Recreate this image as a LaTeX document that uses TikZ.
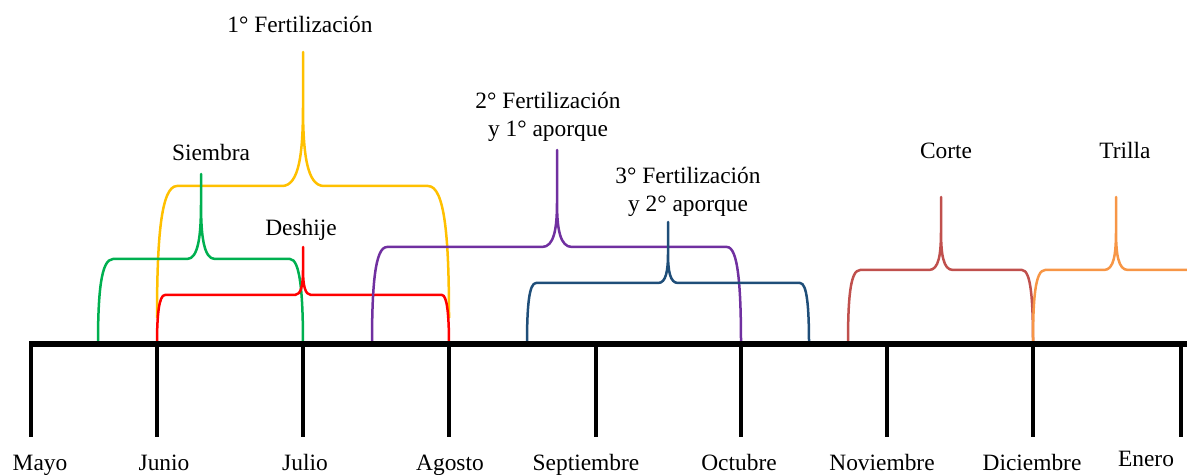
\documentclass[tikz,border=0pt]{standalone}
\usepackage{fontspec}
\setmainfont{Liberation Serif}
\definecolor{verde}{HTML}{00B050}
\definecolor{amarillo}{HTML}{FFC000}
\definecolor{rojo}{HTML}{FF0000}
\definecolor{morado}{HTML}{7030A0}
\definecolor{azul}{HTML}{1F4E79}
\definecolor{ladrillo}{HTML}{C0504D}
\definecolor{naranja}{HTML}{F79646}

\begin{document}
\begin{tikzpicture}[
  x=0.5pt, y=-0.5pt,
  label/.style={font=\fontsize{11.7}{14}\selectfont, inner sep=0pt, anchor=base, align=center},
  phase/.style={line width=1.25pt, line join=round},
  axis/.style={line width=2.5pt},
  tick/.style={line width=2pt}
]
\useasboundingbox (0,0) rectangle (1187,475);

% etapas del cultivo
\draw[phase, amarillo] (157,318) .. controls (157,239) and (161,186) .. (177,186) -- (282,186)
  .. controls (299,186) and (303,154) .. (303,106) -- (303,52) -- (303,106)
  .. controls (303,154) and (307,186) .. (324,186) -- (428,186)
  .. controls (445,186) and (449,239) .. (449,318);
\draw[phase, verde] (98,344) .. controls (98,293) and (101,259) .. (113,259) -- (187,259)
  .. controls (198,259) and (201,237) .. (201,204) -- (201,174) -- (201,204)
  .. controls (201,237) and (204,259) .. (215,259) -- (290,259)
  .. controls (300,259) and (303,293) .. (303,344);
\draw[phase, rojo] (157,344) .. controls (157,315) and (159,295) .. (165,295) -- (295,295)
  .. controls (301,295) and (303,285) .. (303,270) -- (303,247) -- (303,270)
  .. controls (303,285) and (305,295) .. (311,295) -- (442,295)
  .. controls (447,295) and (449,315) .. (449,344);
\draw[phase, morado] (372,344) .. controls (372,286) and (375,247) .. (387,247) -- (542,247)
  .. controls (554,247) and (557,229) .. (557,202) -- (557,150) -- (557,202)
  .. controls (557,229) and (560,247) .. (572,247) -- (727,247)
  .. controls (738,247) and (741,286) .. (741,344);
\draw[phase, azul] (527,344) .. controls (527,307) and (529,283) .. (536,283) -- (658,283)
  .. controls (666,283) and (668,271) .. (668,253) -- (668,222) -- (668,253)
  .. controls (668,271) and (670,283) .. (678,283) -- (800,283)
  .. controls (807,283) and (809,307) .. (809,344);
\draw[phase, ladrillo] (848,344) .. controls (848,300) and (850,270) .. (860,270) -- (929,270)
  .. controls (939,270) and (941,254) .. (941,230) -- (941,197) -- (941,230)
  .. controls (941,254) and (943,270) .. (953,270) -- (1022,270)
  .. controls (1031,270) and (1033,300) .. (1033,344);
\draw[phase, naranja] (1033,344) .. controls (1033,300) and (1035,270) .. (1045,270) -- (1104,270)
  .. controls (1114,270) and (1116,254) .. (1116,230) -- (1116,197) -- (1116,230)
  .. controls (1116,254) and (1118,270) .. (1128,270) -- (1187,270);

\node[label] (fert1) at (300,33) {1° Fertilización};
\node[label] (siembra) at (211,161) {Siembra};
\node[label] (deshije) at (301,236) {Deshije};
\node[label] (fert2) at (548,137) {2° Fertilización\\y 1° aporque};
\node[label] (fert3) at (688,212) {3° Fertilización\\y 2° aporque};
\node[label] (corte) at (946,159) {Corte};
\node[label] (trilla) at (1125,159) {Trilla};

% linea de tiempo
\draw[tick] (31,344) -- (31,437);
\draw[tick] (157,344) -- (157,437);
\draw[tick] (303,344) -- (303,437);
\draw[tick] (449,344) -- (449,437);
\draw[tick] (596,344) -- (596,437);
\draw[tick] (741,344) -- (741,437);
\draw[tick] (887,344) -- (887,437);
\draw[tick] (1033,344) -- (1033,437);
\draw[tick] (1181,344) -- (1181,437);
\draw[axis] (29,344) -- (1187,344);

\node[label] (mayo) at (40,470) {Mayo};
\node[label] (junio) at (164,470) {Junio};
\node[label] (julio) at (305,470) {Julio};
\node[label] (agosto) at (450,470) {Agosto};
\node[label] (septiembre) at (586,470) {Septiembre};
\node[label] (octubre) at (739,470) {Octubre};
\node[label] (noviembre) at (882,470) {Noviembre};
\node[label] (diciembre) at (1032,470) {Diciembre};
\node[label] (enero) at (1146,466) {Enero};
\end{tikzpicture}
\end{document}
